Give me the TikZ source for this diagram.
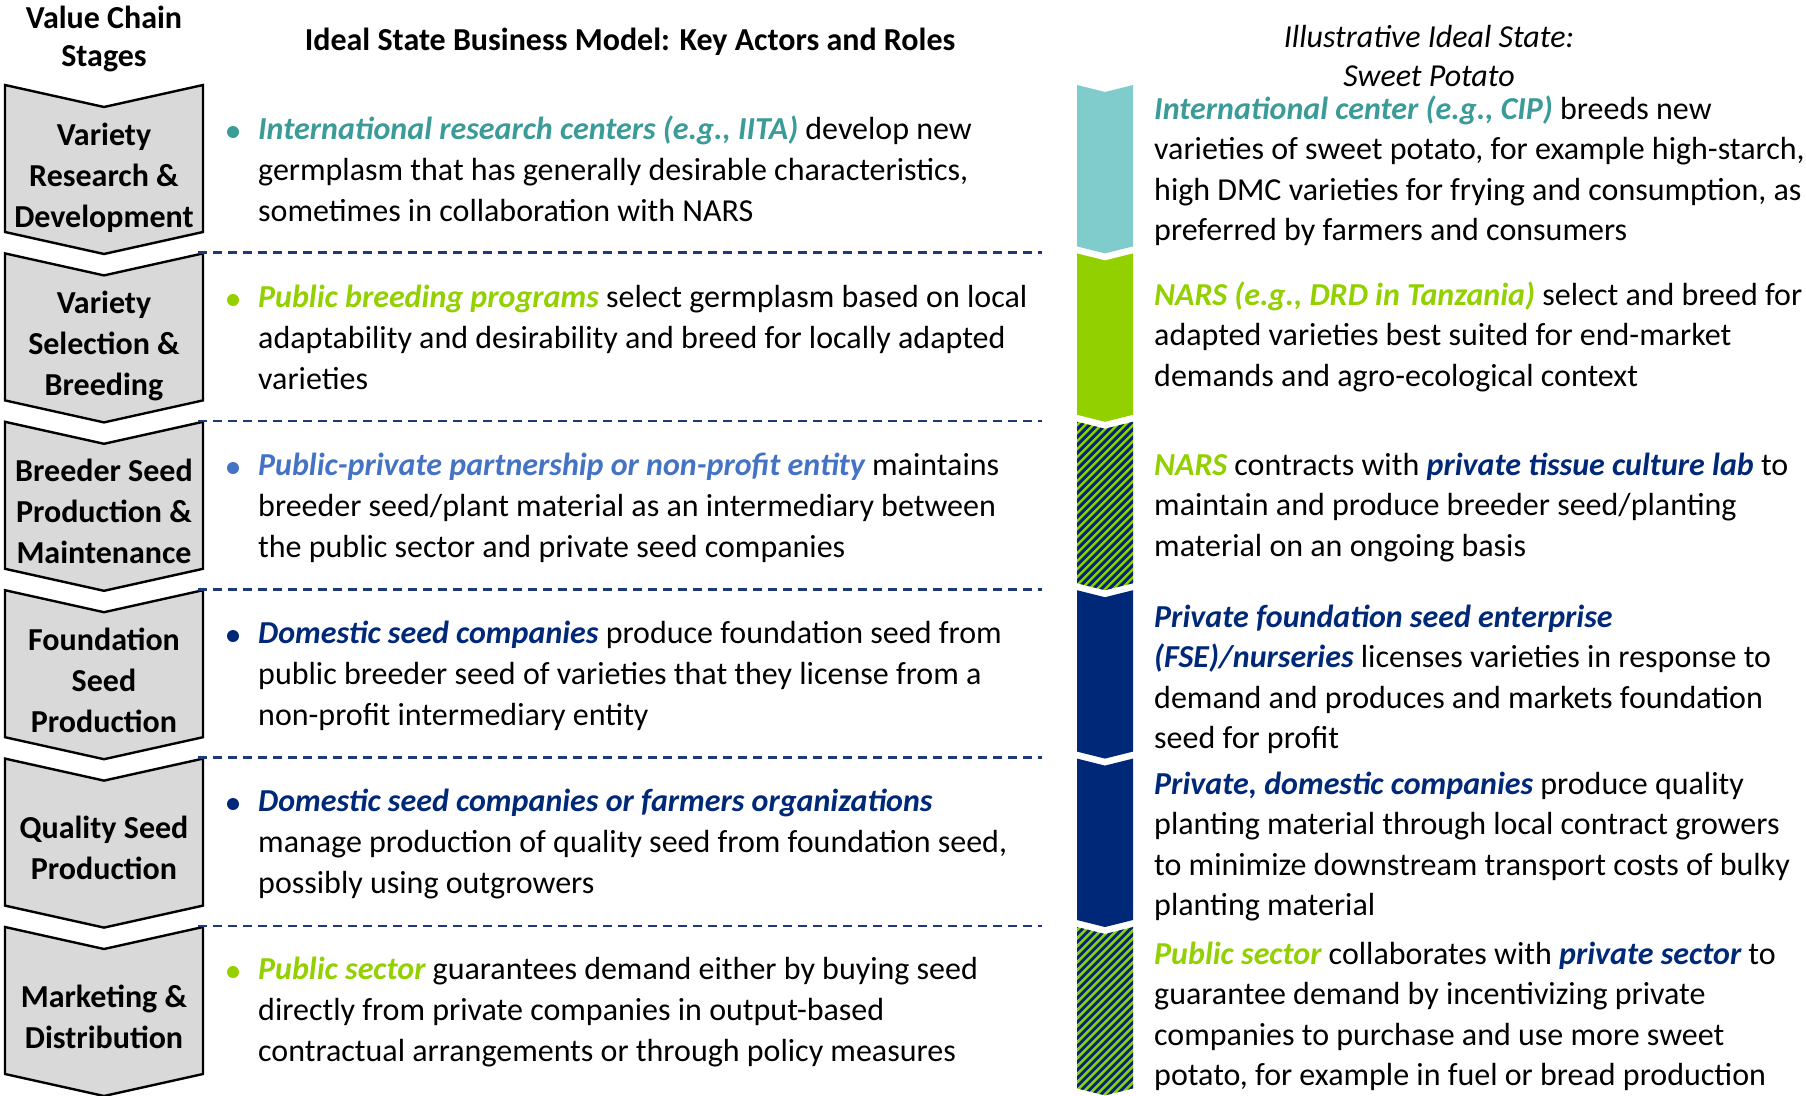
\documentclass[tikz,border=0pt]{standalone}
\usepackage{fontspec}
\setmainfont{Carlito}
\usetikzlibrary{calc}

\definecolor{vcTealTxt}{RGB}{58,155,152}
\definecolor{vcTealBar}{RGB}{128,203,204}
\definecolor{vcGreen}{RGB}{146,208,0}
\definecolor{vcBlue}{RGB}{68,114,196}
\definecolor{vcNavy}{RGB}{0,40,120}
\definecolor{vcSep}{RGB}{31,56,120}
\definecolor{vcGrey}{RGB}{217,217,217}

% emphasised actor name
\newcommand{\actor}[2]{{\bfseries\itshape\color{#1}#2}}
% left-aligned block of lines, baseline on the first line
\newcommand{\plines}[1]{\vtop{\halign{##\hfil\cr#1\crcr}}}
% centred block of lines, baseline on the first line
\newcommand{\clines}[1]{\vtop{\halign{\hfil##\hfil\cr#1\crcr}}}

\begin{document}
\begin{tikzpicture}[x=1pt,y=-1pt,
  body/.style={font=\fontsize{32}{41}\selectfont, inner sep=0pt, anchor=base west},
  bodyr/.style={font=\fontsize{32}{40.5}\selectfont, inner sep=0pt, anchor=base west},
  stage/.style={font=\fontsize{32}{41}\selectfont\bfseries, inner sep=0pt, anchor=base},
  chevron/.style={fill=vcGrey, draw=black, line width=2.4pt, line join=miter},
  sep/.style={draw=vcSep, line width=2.6pt, dash pattern=on 9pt off 6pt}
]
\useasboundingbox (0,0) rectangle (1806,1095);

% column headings
\node[font=\fontsize{32}{38}\selectfont\bfseries, inner sep=0pt, anchor=base] (hdrstages) at (104,28)
  {\clines{Value Chain\cr Stages}};
\node[font=\fontsize{32}{41}\selectfont\bfseries, inner sep=0pt, anchor=base] (hdrmodel) at (630,50)
  {Ideal State Business Model: Key Actors and Roles};
\node[font=\fontsize{32}{39}\selectfont\itshape, inner sep=0pt, anchor=base] (hdrpotato) at (1429,47)
  {\clines{Illustrative Ideal State:\cr Sweet Potato}};

% value chain stage chevrons
\foreach \i/\off/\lab in {
  0/60/{Variety\cr Research \&\cr Development},
  1/60/{Variety\cr Selection \&\cr Breeding},
  2/60/{Breeder Seed\cr Production \&\cr Maintenance},
  3/60/{Foundation\cr Seed\cr Production},
  4/80/{Quality Seed\cr Production},
  5/80/{Marketing \&\cr Distribution}}{
  \pgfmathsetmacro\yt{85+168.4*\i}
  \draw[chevron] (5,\yt) -- (104,\yt+22) -- (203,\yt) -- (203,\yt+147)
    -- (104,\yt+169) -- (5,\yt+147) -- cycle;
  \node[stage] (stage\i) at (104,\yt+\off) {\clines{\lab}};
}

% dashed separators between stages
\foreach \i in {1,...,5}{
  \pgfmathsetmacro\ys{85+168.4*\i-1}
  \draw[sep] (198,\ys) -- (1042,\ys);
}

% colour bar of the sweet potato example
\def\barseg#1#2{% #1 = index, #2 = fill colour
  \pgfmathsetmacro\yt{85+168.4*#1}
  \pgfmathsetmacro\yb{85+168.4*(#1+1)}
  \fill[#2] (1077,\yt) -- (1105,\yt+7) -- (1133,\yt) -- (1133,\yb-7)
    -- (1105,\yb) -- (1077,\yb-7) -- cycle;
}
\def\hatchseg#1{% #1 = index; green and navy diagonal stripes
  \pgfmathsetmacro\yt{85+168.4*#1}
  \pgfmathsetmacro\yb{85+168.4*(#1+1)}
  \begin{scope}
    \clip (1077,\yt) -- (1105,\yt+7) -- (1133,\yt) -- (1133,\yb-7)
      -- (1105,\yb) -- (1077,\yb-7) -- cycle;
    \fill[vcGreen] (1070,\yt-5) rectangle (1140,\yb+5);
    \foreach \t in {-190,-182,...,60}{
      \draw[vcNavy, line width=2.9pt] (1077+\t,\yb+5) -- ++(190,-190);
    }
  \end{scope}
}
\barseg{0}{vcTealBar}
\barseg{1}{vcGreen}
\hatchseg{2}
\barseg{3}{vcNavy}
\barseg{4}{vcNavy}
\hatchseg{5}

% bullets of the business model column
\foreach \i/\c in {0/vcTealTxt,1/vcGreen,2/vcBlue,3/vcNavy,4/vcNavy,5/vcGreen}{
  \pgfmathsetmacro\yb{139+168*\i-7}
  \fill[\c] (233,\yb) circle (6);
}

% key actors and roles
\node[body] (role0) at (258,139) {\plines{%
  \actor{vcTealTxt}{International research centers (e.g., IITA)} develop new\cr
  germplasm that has generally desirable characteristics,\cr
  sometimes in collaboration with NARS}};
\node[body] (role1) at (258,307) {\plines{%
  \actor{vcGreen}{Public breeding programs} select germplasm based on local\cr
  adaptability and desirability and breed for locally adapted\cr
  varieties}};
\node[body] (role2) at (258,475) {\plines{%
  \actor{vcBlue}{Public-private partnership or non-profit entity} maintains\cr
  breeder seed/plant material as an intermediary between\cr
  the public sector and private seed companies}};
\node[body] (role3) at (258,643) {\plines{%
  \actor{vcNavy}{Domestic seed companies} produce foundation seed from\cr
  public breeder seed of varieties that they license from a\cr
  non-profit intermediary entity}};
\node[body] (role4) at (258,811) {\plines{%
  \actor{vcNavy}{Domestic seed companies or farmers organizations}\cr
  manage production of quality seed from foundation seed,\cr
  possibly using outgrowers}};
\node[body] (role5) at (258,979) {\plines{%
  \actor{vcGreen}{Public sector} guarantees demand either by buying seed\cr
  directly from private companies in output-based\cr
  contractual arrangements or through policy measures}};

% sweet potato example
\node[bodyr] (ex0) at (1154,119) {\plines{%
  \actor{vcTealTxt}{International center (e.g., CIP)} breeds new\cr
  varieties of sweet potato, for example high-starch,\cr
  high DMC varieties for frying and consumption, as\cr
  preferred by farmers and consumers}};
\node[bodyr] (ex1) at (1154,305) {\plines{%
  \actor{vcGreen}{NARS (e.g., DRD in Tanzania)} select and breed for\cr
  adapted varieties best suited for end-market\cr
  demands and agro-ecological context}};
\node[bodyr] (ex2) at (1154,475) {\plines{%
  \actor{vcGreen}{NARS} contracts with \actor{vcNavy}{private tissue culture lab} to\cr
  maintain and produce breeder seed/planting\cr
  material on an ongoing basis}};
\node[bodyr] (ex3) at (1154,627) {\plines{%
  \actor{vcNavy}{Private foundation seed enterprise}\cr
  \actor{vcNavy}{(FSE)/nurseries} licenses varieties in response to\cr
  demand and produces and markets foundation\cr
  seed for profit}};
\node[bodyr] (ex4) at (1154,794) {\plines{%
  \actor{vcNavy}{Private, domestic companies} produce quality\cr
  planting material through local contract growers\cr
  to minimize downstream transport costs of bulky\cr
  planting material}};
\node[bodyr] (ex5) at (1154,964) {\plines{%
  \actor{vcGreen}{Public sector} collaborates with \actor{vcNavy}{private sector} to\cr
  guarantee demand by incentivizing private\cr
  companies to purchase and use more sweet\cr
  potato, for example in fuel or bread production}};
\end{tikzpicture}
\end{document}
